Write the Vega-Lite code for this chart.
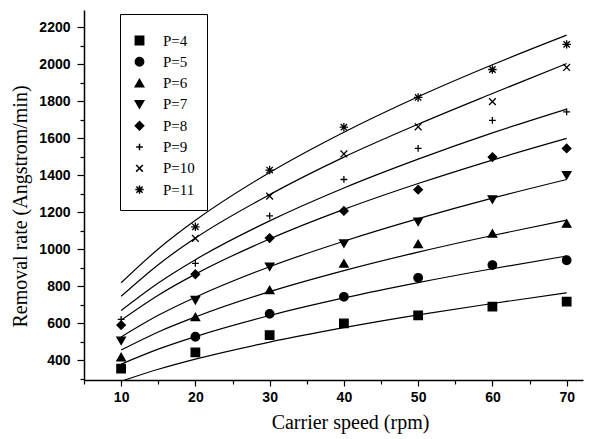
{
  "$schema": "https://vega.github.io/schema/vega-lite/v6.json",
  "width": 499,
  "height": 370,
  "autosize": {"type": "none"},
  "padding": {"left": 84, "top": 10, "right": 19, "bottom": 59},
  "background": "white",
  "config": {
    "view": {"stroke": null},
    "axis": {
      "grid": false,
      "domainColor": "black",
      "domainWidth": 1.5,
      "tickColor": "black",
      "tickWidth": 1.2,
      "labelColor": "black",
      "labelFont": "Liberation Sans",
      "labelFontSize": 14,
      "labelFontWeight": "bold",
      "titleFont": "Liberation Serif",
      "titleFontSize": 20,
      "titleFontWeight": "normal",
      "titleColor": "black"
    }
  },
  "datasets": {
    "fits": [
      {"P": "P=4", "speed": 10, "rate": 285}, {"P": "P=4", "speed": 15, "rate": 350}, {"P": "P=4", "speed": 20, "rate": 405}, {"P": "P=4", "speed": 30, "rate": 497}, {"P": "P=4", "speed": 40, "rate": 575}, {"P": "P=4", "speed": 50, "rate": 644}, {"P": "P=4", "speed": 60, "rate": 706}, {"P": "P=4", "speed": 70, "rate": 764},
      {"P": "P=5", "speed": 10, "rate": 378}, {"P": "P=5", "speed": 15, "rate": 459}, {"P": "P=5", "speed": 20, "rate": 527}, {"P": "P=5", "speed": 30, "rate": 641}, {"P": "P=5", "speed": 40, "rate": 736}, {"P": "P=5", "speed": 50, "rate": 819}, {"P": "P=5", "speed": 60, "rate": 894}, {"P": "P=5", "speed": 70, "rate": 963},
      {"P": "P=6", "speed": 10, "rate": 454}, {"P": "P=6", "speed": 15, "rate": 552}, {"P": "P=6", "speed": 20, "rate": 633}, {"P": "P=6", "speed": 30, "rate": 770}, {"P": "P=6", "speed": 40, "rate": 884}, {"P": "P=6", "speed": 50, "rate": 984}, {"P": "P=6", "speed": 60, "rate": 1074}, {"P": "P=6", "speed": 70, "rate": 1157},
      {"P": "P=7", "speed": 10, "rate": 525}, {"P": "P=7", "speed": 15, "rate": 642}, {"P": "P=7", "speed": 20, "rate": 740}, {"P": "P=7", "speed": 30, "rate": 905}, {"P": "P=7", "speed": 40, "rate": 1043}, {"P": "P=7", "speed": 50, "rate": 1165}, {"P": "P=7", "speed": 60, "rate": 1276}, {"P": "P=7", "speed": 70, "rate": 1377},
      {"P": "P=8", "speed": 10, "rate": 616}, {"P": "P=8", "speed": 15, "rate": 751}, {"P": "P=8", "speed": 20, "rate": 865}, {"P": "P=8", "speed": 30, "rate": 1055}, {"P": "P=8", "speed": 40, "rate": 1215}, {"P": "P=8", "speed": 50, "rate": 1355}, {"P": "P=8", "speed": 60, "rate": 1482}, {"P": "P=8", "speed": 70, "rate": 1599},
      {"P": "P=9", "speed": 10, "rate": 668}, {"P": "P=9", "speed": 15, "rate": 817}, {"P": "P=9", "speed": 20, "rate": 943}, {"P": "P=9", "speed": 30, "rate": 1153}, {"P": "P=9", "speed": 40, "rate": 1331}, {"P": "P=9", "speed": 50, "rate": 1487}, {"P": "P=9", "speed": 60, "rate": 1629}, {"P": "P=9", "speed": 70, "rate": 1758},
      {"P": "P=10", "speed": 10, "rate": 745}, {"P": "P=10", "speed": 15, "rate": 916}, {"P": "P=10", "speed": 20, "rate": 1060}, {"P": "P=10", "speed": 30, "rate": 1295}, {"P": "P=10", "speed": 40, "rate": 1498}, {"P": "P=10", "speed": 50, "rate": 1676}, {"P": "P=10", "speed": 60, "rate": 1842}, {"P": "P=10", "speed": 70, "rate": 2004},
      {"P": "P=11", "speed": 10, "rate": 818}, {"P": "P=11", "speed": 15, "rate": 1001}, {"P": "P=11", "speed": 20, "rate": 1156}, {"P": "P=11", "speed": 30, "rate": 1415}, {"P": "P=11", "speed": 40, "rate": 1633}, {"P": "P=11", "speed": 50, "rate": 1825}, {"P": "P=11", "speed": 60, "rate": 1998}, {"P": "P=11", "speed": 70, "rate": 2158}
    ],
    "points": [
      {"P": "P=4", "speed": 10, "rate": 353}, {"P": "P=4", "speed": 20, "rate": 441}, {"P": "P=4", "speed": 30, "rate": 535}, {"P": "P=4", "speed": 40, "rate": 598}, {"P": "P=4", "speed": 50, "rate": 642}, {"P": "P=4", "speed": 60, "rate": 689}, {"P": "P=4", "speed": 70, "rate": 716},
      {"P": "P=5", "speed": 20, "rate": 526}, {"P": "P=5", "speed": 30, "rate": 650}, {"P": "P=5", "speed": 40, "rate": 742}, {"P": "P=5", "speed": 50, "rate": 845}, {"P": "P=5", "speed": 60, "rate": 914}, {"P": "P=5", "speed": 70, "rate": 940},
      {"P": "P=6", "speed": 10, "rate": 416}, {"P": "P=6", "speed": 20, "rate": 633}, {"P": "P=6", "speed": 30, "rate": 779}, {"P": "P=6", "speed": 40, "rate": 923}, {"P": "P=6", "speed": 50, "rate": 1028}, {"P": "P=6", "speed": 60, "rate": 1085}, {"P": "P=6", "speed": 70, "rate": 1139},
      {"P": "P=7", "speed": 10, "rate": 504}, {"P": "P=7", "speed": 20, "rate": 724}, {"P": "P=7", "speed": 30, "rate": 905}, {"P": "P=7", "speed": 40, "rate": 1030}, {"P": "P=7", "speed": 50, "rate": 1148}, {"P": "P=7", "speed": 60, "rate": 1268}, {"P": "P=7", "speed": 70, "rate": 1400},
      {"P": "P=8", "speed": 10, "rate": 589}, {"P": "P=8", "speed": 20, "rate": 864}, {"P": "P=8", "speed": 30, "rate": 1060}, {"P": "P=8", "speed": 40, "rate": 1207}, {"P": "P=8", "speed": 50, "rate": 1322}, {"P": "P=8", "speed": 60, "rate": 1498}, {"P": "P=8", "speed": 70, "rate": 1545},
      {"P": "P=9", "speed": 10, "rate": 620}, {"P": "P=9", "speed": 20, "rate": 923}, {"P": "P=9", "speed": 30, "rate": 1180}, {"P": "P=9", "speed": 40, "rate": 1377}, {"P": "P=9", "speed": 50, "rate": 1545}, {"P": "P=9", "speed": 60, "rate": 1697}, {"P": "P=9", "speed": 70, "rate": 1743},
      {"P": "P=10", "speed": 20, "rate": 1058}, {"P": "P=10", "speed": 30, "rate": 1287}, {"P": "P=10", "speed": 40, "rate": 1515}, {"P": "P=10", "speed": 50, "rate": 1662}, {"P": "P=10", "speed": 60, "rate": 1798}, {"P": "P=10", "speed": 70, "rate": 1983},
      {"P": "P=11", "speed": 20, "rate": 1121}, {"P": "P=11", "speed": 30, "rate": 1428}, {"P": "P=11", "speed": 40, "rate": 1660}, {"P": "P=11", "speed": 50, "rate": 1821}, {"P": "P=11", "speed": 60, "rate": 1972}, {"P": "P=11", "speed": 70, "rate": 2108}
    ]
  },
  "resolve": {"axis": {"x": "independent", "y": "independent"}},
  "layer": [
    {
      "data": {"name": "fits"},
      "mark": {"type": "line", "color": "black", "strokeWidth": 0, "opacity": 0},
      "encoding": {
        "x": {
          "field": "speed", "type": "quantitative",
          "scale": {"domain": [5, 72.2], "nice": false, "zero": false},
          "axis": {
            "orient": "bottom",
            "title": null,
            "values": [5, 15, 25, 35, 45, 55, 65],
            "labels": false,
            "domain": false,
            "tickSize": 4
          }
        },
        "y": {
          "field": "rate", "type": "quantitative",
          "scale": {"domain": [292, 2294], "nice": false, "zero": false},
          "axis": {
            "orient": "left",
            "title": null,
            "values": [300, 500, 700, 900, 1100, 1300, 1500, 1700, 1900, 2100],
            "labels": false,
            "domain": false,
            "tickSize": 4
          }
        },
        "detail": {"field": "P", "type": "nominal"}
      }
    },
    {
      "data": {"name": "fits"},
      "mark": {"type": "line", "color": "black", "strokeWidth": 1.2, "interpolate": "monotone", "clip": true},
      "encoding": {
        "x": {
          "field": "speed", "type": "quantitative",
          "axis": {
            "orient": "bottom",
            "title": "Carrier speed (rpm)",
            "values": [10, 20, 30, 40, 50, 60, 70],
            "tickSize": 6,
            "labelPadding": 4,
            "titlePadding": 8,
            "titleX": 266
          }
        },
        "y": {
          "field": "rate", "type": "quantitative",
          "axis": {
            "orient": "left",
            "title": "Removal rate (Angstrom/min)",
            "format": "d",
            "values": [400, 600, 800, 1000, 1200, 1400, 1600, 1800, 2000, 2200],
            "tickSize": 7,
            "labelPadding": 7,
            "titlePadding": 8,
            "titleY": 196
          }
        },
        "detail": {"field": "P", "type": "nominal"}
      }
    },
    {
      "data": {"name": "points"},
      "mark": {"type": "point", "filled": true, "color": "black", "stroke": "black", "strokeWidth": 1.3, "size": 72, "opacity": 1},
      "encoding": {
        "x": {"field": "speed", "type": "quantitative", "axis": null},
        "y": {"field": "rate", "type": "quantitative", "axis": null},
        "shape": {
          "field": "P", "type": "nominal",
          "scale": {
            "domain": ["P=4", "P=5", "P=6", "P=7", "P=8", "P=9", "P=10", "P=11"],
            "range": ["square", "circle", "triangle-up", "triangle-down", "diamond", "M-0.8,0H0.8M0,-0.8V0.8", "M-0.8,-0.8L0.8,0.8M-0.8,0.8L0.8,-0.8", "M-1,0H1M0,-1V1M-0.75,-0.75L0.75,0.75M-0.75,0.75L0.75,-0.75"]
          },
          "legend": {
            "title": " ",
            "titleFontSize": 4,
            "titlePadding": 3,
            "orient": "none",
            "legendX": 36,
            "legendY": 4,
            "strokeColor": "black",
            "fillColor": "white",
            "padding": 12,
            "rowPadding": 5.3,
            "labelOffset": 16,
            "symbolSize": 70,
            "labelFont": "Liberation Serif",
            "labelFontSize": 15,
            "labelColor": "black",
            "symbolOpacity": 1,
            "encode": {
              "symbols": {
                "update": {
                  "fill": {"value": "black"},
                  "stroke": {"value": "black"},
                  "strokeWidth": {"value": 1.3}
                }
              }
            }
          }
        }
      }
    }
  ]
}
